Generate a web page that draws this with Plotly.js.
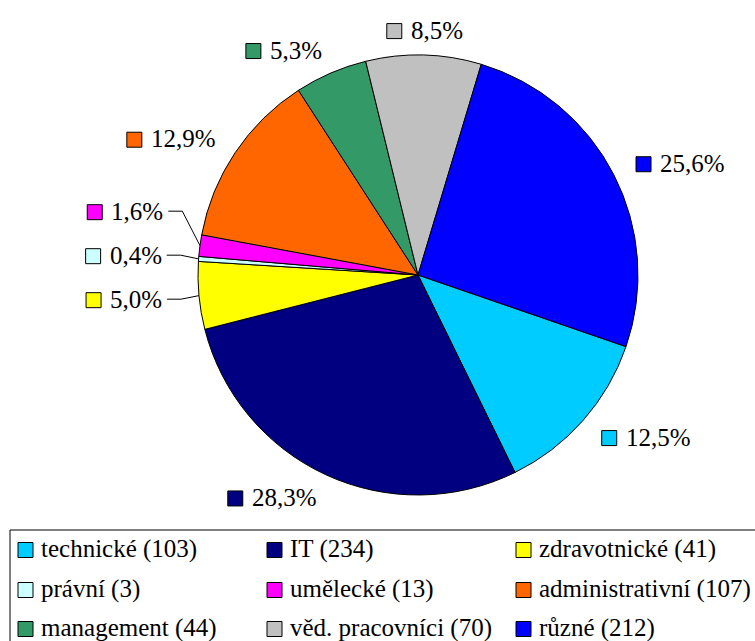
<!DOCTYPE html>
<html>
<head>
<meta charset="utf-8">
<script src="https://cdn.plot.ly/plotly-3.0.1.min.js"></script>
<style>html,body{margin:0;padding:0;background:#fff;} .annotation-text{font-family:'Liberation Serif' !important;}</style>
</head>
<body>
<div id="chart"></div>
<script>
const categories = ['technické', 'IT', 'zdravotnické', 'právní', 'umělecké', 'administrativní', 'management', 'věd. pracovníci', 'různé'];
const counts = [103, 234, 41, 3, 13, 107, 44, 70, 212];
const colors = ['#00CCFF', '#000080', '#FFFF00', '#CCFFFF', '#FF00FF', '#FF6600', '#339966', '#C0C0C0', '#0000FF'];

const W = 755, H = 641;
const FONT = 'Liberation Serif';
const FS = 25;
const rotation = 109;
const pieBox = {x0: 198, x1: 638, y0: 55, y1: 495};

const cx = (pieBox.x0 + pieBox.x1) / 2, cy = (pieBox.y0 + pieBox.y1) / 2;
const r = (pieBox.x1 - pieBox.x0) / 2;
const X = px => px / W;
const Y = py => 1 - py / H;

const EM = {'0': 0.5, '1': 0.5, '2': 0.5, '3': 0.5, '4': 0.5, '5': 0.5, '6': 0.5, '7': 0.5, '8': 0.5, '9': 0.5, ',': 0.25, '%': 0.833};
const tw = s => s.split('').reduce((a, ch) => a + (EM[ch] || 0.5), 0) * FS;

const total = counts.reduce((a, b) => a + b, 0);
const pctText = counts.map(v => (v / total * 100).toFixed(1).replace('.', ',') + '%');

const shapes = [];
const annotations = [];
const SQ = 15, GAP = 8;

let cum = 0;
const labels = counts.map((v, i) => {
  const frac = v / total;
  const theta = ((rotation - 90) + (cum + frac / 2) * 360) * Math.PI / 180;
  cum += frac;
  const dx = Math.cos(theta), dy = Math.sin(theta);
  const leader = Math.abs(dx) > 0.9 && frac < 0.06;
  const R = leader ? 258 : 245;
  const px = cx + R * dx, py = cy + R * dy;
  const w = SQ + GAP + tw(pctText[i]);
  let left;
  if (dx > 0.15) left = px; else if (dx < -0.15) left = px - w; else left = px - w / 2;
  return {i, dx, dy, left, w, y: py, leader};
});
const leftSide = labels.filter(l => l.dx < -0.15).sort((a, b) => b.y - a.y);
for (let k = 1; k < leftSide.length; k++) {
  if (leftSide[k].y > leftSide[k - 1].y - 44) leftSide[k].y = leftSide[k - 1].y - 44;
}

labels.forEach(l => {
  shapes.push({type: 'rect', xref: 'paper', yref: 'paper',
    x0: X(l.left), x1: X(l.left + SQ), y0: Y(l.y - SQ / 2 + 1), y1: Y(l.y + SQ / 2 + 1),
    fillcolor: colors[l.i], line: {color: '#000', width: 1}});
  annotations.push({xref: 'paper', yref: 'paper', x: X(l.left + SQ + GAP - 1), y: Y(l.y),
    xanchor: 'left', yanchor: 'middle', showarrow: false, text: pctText[l.i],
    font: {family: FONT, size: FS, color: '#000'}});
  if (l.leader) {
    const right = l.left + l.w;
    const sx = right + 6, mx = right + 20;
    const ex = cx + r * l.dx, ey = cy + r * l.dy;
    shapes.push({type: 'path', xref: 'paper', yref: 'paper',
      path: 'M' + X(sx) + ',' + Y(l.y) + ' L' + X(mx) + ',' + Y(l.y) + ' L' + X(ex) + ',' + Y(ey),
      line: {color: '#000', width: 1}});
  }
});

shapes.push({type: 'rect', xref: 'paper', yref: 'paper', x0: X(10), x1: X(W + 20), y0: Y(530), y1: Y(H + 20),
  line: {color: '#000', width: 1}});
const colX = [18, 267, 516], rowY = [549, 589, 628];
categories.forEach((c, i) => {
  const col = i % 3, row = Math.floor(i / 3);
  const x = colX[col], y = rowY[row];
  shapes.push({type: 'rect', xref: 'paper', yref: 'paper', x0: X(x), x1: X(x + SQ), y0: Y(y - SQ / 2 + 1), y1: Y(y + SQ / 2 + 1),
    fillcolor: colors[i], line: {color: '#000', width: 1}});
  annotations.push({xref: 'paper', yref: 'paper', x: X(x + SQ + 6), y: Y(y), xanchor: 'left', yanchor: 'middle',
    showarrow: false, text: c + ' (' + counts[i] + ')', font: {family: FONT, size: FS, color: '#000'}});
});

const trace = {
  type: 'pie', values: counts, labels: categories, sort: false, direction: 'clockwise', rotation: rotation,
  textinfo: 'none', hoverinfo: 'none',
  marker: {colors: colors, line: {color: '#000', width: 1}},
  domain: {x: [X(pieBox.x0), X(pieBox.x1)], y: [Y(pieBox.y1), Y(pieBox.y0)]}
};

Plotly.newPlot('chart', [trace], {
  width: W, height: H, margin: {l: 0, r: 0, t: 0, b: 0},
  showlegend: false, paper_bgcolor: '#fff',
  shapes: shapes, annotations: annotations
}, {displayModeBar: false}).then(() => {
  document.querySelectorAll('.annotation-text').forEach(t => { t.style.fontFamily = '"Liberation Serif"'; });
});
</script>
</body>
</html>
